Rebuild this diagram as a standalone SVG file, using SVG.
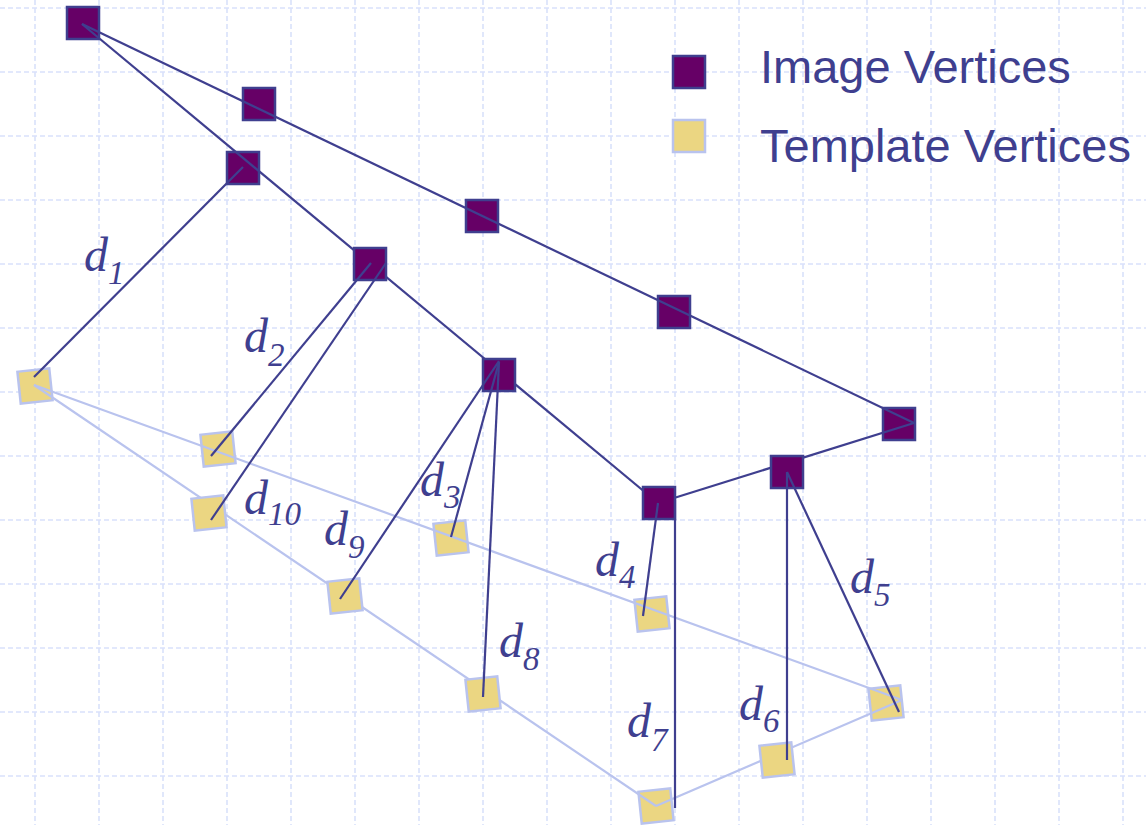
<svg xmlns="http://www.w3.org/2000/svg" width="1146" height="825" viewBox="0 0 1146 825">
<defs>
<style>
.grid line{stroke:#d9e1fb;stroke-width:1.6;stroke-dasharray:5 3}
.img{fill:#660066;stroke:#3f3f8f;stroke-width:2.5}
.tpl{fill:#ebd682;stroke:#b9c3ee;stroke-width:2.5}
.ie{stroke:#3f3f8f;stroke-width:2.2;fill:none}
.te{stroke:#b9c3ee;stroke-width:2.2;fill:none}
.lbl{font-family:"Liberation Serif","DejaVu Serif",serif;font-style:italic;font-size:48px;fill:#3f3f8f}
.sub{font-size:33px}
.leg{font-family:"Liberation Sans","DejaVu Sans",sans-serif;font-size:47px;fill:#3f3f8f}
</style>
</defs>
<rect width="1146" height="825" fill="#ffffff"/>
<g class="grid">
<line x1="35" y1="0" x2="35" y2="825"/><line x1="99" y1="0" x2="99" y2="825"/><line x1="163" y1="0" x2="163" y2="825"/><line x1="227" y1="0" x2="227" y2="825"/><line x1="291" y1="0" x2="291" y2="825"/><line x1="355" y1="0" x2="355" y2="825"/><line x1="419" y1="0" x2="419" y2="825"/><line x1="483" y1="0" x2="483" y2="825"/><line x1="547" y1="0" x2="547" y2="825"/><line x1="611" y1="0" x2="611" y2="825"/><line x1="675" y1="0" x2="675" y2="825"/><line x1="739" y1="0" x2="739" y2="825"/><line x1="803" y1="0" x2="803" y2="825"/><line x1="867" y1="0" x2="867" y2="825"/><line x1="931" y1="0" x2="931" y2="825"/><line x1="995" y1="0" x2="995" y2="825"/><line x1="1059" y1="0" x2="1059" y2="825"/><line x1="1123" y1="0" x2="1123" y2="825"/>
<line x1="0" y1="8" x2="1146" y2="8"/><line x1="0" y1="72" x2="1146" y2="72"/><line x1="0" y1="136" x2="1146" y2="136"/><line x1="0" y1="200" x2="1146" y2="200"/><line x1="0" y1="264" x2="1146" y2="264"/><line x1="0" y1="328" x2="1146" y2="328"/><line x1="0" y1="392" x2="1146" y2="392"/><line x1="0" y1="456" x2="1146" y2="456"/><line x1="0" y1="520" x2="1146" y2="520"/><line x1="0" y1="584" x2="1146" y2="584"/><line x1="0" y1="648" x2="1146" y2="648"/><line x1="0" y1="712" x2="1146" y2="712"/><line x1="0" y1="776" x2="1146" y2="776"/>
</g>
<g id="nodes-back">
<g id="image-v1"><rect class="img" x="67" y="7" width="32" height="32"/></g>
<g id="image-v2"><rect class="img" x="243" y="88" width="32" height="32"/></g>
<g id="image-v3"><rect class="img" x="227" y="152" width="32" height="32"/></g>
<g id="image-v6"><rect class="img" x="466" y="200" width="32" height="32"/></g>
<g id="image-v7"><rect class="img" x="658" y="296" width="32" height="32"/></g>
<g id="image-v8"><rect class="img" x="883" y="408" width="32" height="32"/></g>
<g id="template-v1"><rect class="tpl" x="-16" y="-16" width="32" height="32" transform="translate(35 386) rotate(-6)"/></g>
<g id="template-v2"><rect class="tpl" x="-16" y="-16" width="32" height="32" transform="translate(218 449) rotate(-6)"/></g>
<g id="template-v5"><rect class="tpl" x="-16" y="-16" width="32" height="32" transform="translate(451 538) rotate(-6)"/></g>
<g id="template-v7"><rect class="tpl" x="-16" y="-16" width="32" height="32" transform="translate(652 614) rotate(-6)"/></g>
<g id="template-v8"><rect class="tpl" x="-16" y="-16" width="32" height="32" transform="translate(656 806) rotate(-6)"/></g>
<g id="template-v10"><rect class="tpl" x="-16" y="-16" width="32" height="32" transform="translate(886 703) rotate(-6)"/></g>
</g>
<g id="edges">
<line class="te" x1="34" y1="385" x2="902" y2="700"/>
<line class="te" x1="34" y1="385" x2="656" y2="806"/>
<line class="te" x1="656" y1="806" x2="902" y2="700"/>
<line class="ie" x1="82" y1="24" x2="914" y2="423"/>
<line class="ie" x1="82" y1="24" x2="658" y2="503"/>
<line class="ie" x1="658" y1="503" x2="914" y2="423"/>
</g>
<g id="nodes-front">
<g id="image-v4"><rect class="img" x="354" y="248" width="32" height="32"/></g>
<g id="image-v5"><rect class="img" x="483" y="359" width="32" height="32"/></g>
<g id="image-v9"><rect class="img" x="771" y="456" width="32" height="32"/></g>
<g id="image-v10"><rect class="img" x="643" y="487" width="32" height="32"/></g>
<g id="template-v3"><rect class="tpl" x="-16" y="-16" width="32" height="32" transform="translate(209 513) rotate(-6)"/></g>
<g id="template-v4"><rect class="tpl" x="-16" y="-16" width="32" height="32" transform="translate(345 596) rotate(-6)"/></g>
<g id="template-v6"><rect class="tpl" x="-16" y="-16" width="32" height="32" transform="translate(483 694) rotate(-6)"/></g>
<g id="template-v9"><rect class="tpl" x="-16" y="-16" width="32" height="32" transform="translate(777 760) rotate(-6)"/></g>
</g>
<g id="connectors">
<line class="ie" x1="243" y1="167" x2="34" y2="377"/>
<line class="ie" x1="371" y1="263" x2="211" y2="456"/>
<line class="ie" x1="386" y1="263" x2="211" y2="520"/>
<line class="ie" x1="499" y1="361" x2="340" y2="599"/>
<line class="ie" x1="499" y1="362" x2="451" y2="537"/>
<line class="ie" x1="499" y1="362" x2="483" y2="697"/>
<line class="ie" x1="658" y1="503" x2="643" y2="616"/>
<line class="ie" x1="675" y1="500" x2="675" y2="808"/>
<line class="ie" x1="787" y1="472" x2="787" y2="760"/>
<line class="ie" x1="787" y1="472" x2="899" y2="712"/>
</g>
<g id="labels">
<text class="lbl" x="84" y="271">d<tspan class="sub" dy="13">1</tspan></text>
<text class="lbl" x="244" y="352">d<tspan class="sub" dy="14">2</tspan></text>
<text class="lbl" x="244" y="514">d<tspan class="sub" dy="11">10</tspan></text>
<text class="lbl" x="324" y="545">d<tspan class="sub" dy="13">9</tspan></text>
<text class="lbl" x="420" y="496">d<tspan class="sub" dy="12">3</tspan></text>
<text class="lbl" x="499" y="657">d<tspan class="sub" dy="13">8</tspan></text>
<text class="lbl" x="595" y="576">d<tspan class="sub" dy="12">4</tspan></text>
<text class="lbl" x="850" y="593">d<tspan class="sub" dy="13">5</tspan></text>
<text class="lbl" x="739" y="720">d<tspan class="sub" dy="12">6</tspan></text>
<text class="lbl" x="627" y="737">d<tspan class="sub" dy="14">7</tspan></text>
</g>
<g id="legend">
<rect class="img" x="673" y="56" width="32" height="32"/>
<rect class="tpl" x="673" y="120" width="32" height="32"/>
<text class="leg" x="760" y="83">Image Vertices</text>
<text class="leg" x="760" y="162">Template Vertices</text>
</g>
</svg>
